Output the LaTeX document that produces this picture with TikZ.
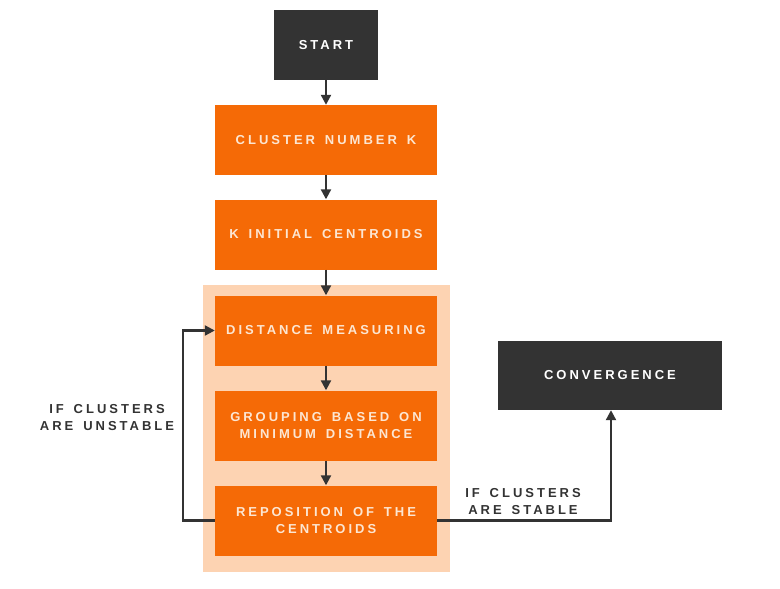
\documentclass[tikz,border=0pt]{standalone}
\usepackage{fontspec}
\setmainfont{Liberation Sans}
\usetikzlibrary{arrows.meta}
\definecolor{dark}{HTML}{333333}
\definecolor{orng}{HTML}{F56A06}
\definecolor{peach}{HTML}{FDD3B2}
\definecolor{cream}{HTML}{FCE6D2}
\newfontfamily\spaced[LetterSpace=23,WordSpace=1.5]{Liberation Sans}
\tikzset{
  base/.style={minimum width=222pt, minimum height=70pt, inner sep=0pt, align=center,
    font=\spaced\bfseries\fontsize{13}{17}\selectfont},
  orbox/.style={base, fill=orng, text=cream},
  dkbox/.style={base, fill=dark, text=white},
  lbl/.style={align=center, text=dark, font=\spaced\bfseries\fontsize{13}{17}\selectfont},
  conn/.style={draw=dark, line width=2.2pt, -{Triangle[length=10pt,width=10pt]}},
}
\begin{document}
\begin{tikzpicture}[x=1pt,y=-1pt]
\useasboundingbox (0,0) rectangle (780,589);
\fill[peach] (203,285) rectangle (450,572);
\node[dkbox, minimum width=104pt] (start) at (326,45) {START};
\node[orbox] (k) at (326,140) {CLUSTER NUMBER K};
\node[orbox] (init) at (326,234.5) {K INITIAL CENTROIDS};
\node[orbox] (dist) at (326,330.5) {DISTANCE MEASURING};
\node[orbox] (group) at (326,425.5) {GROUPING BASED ON\\MINIMUM DISTANCE};
\node[orbox] (repo) at (326,520.5) {REPOSITION OF THE\\CENTROIDS};
\node[dkbox, minimum width=224pt, minimum height=69pt] (conv) at (610,375.5) {CONVERGENCE};
\coordinate (lc) at (183,520.5);
\coordinate (rc) at (611,520.5);
\draw[conn] (start) -- (k);
\draw[conn] (k) -- (init);
\draw[conn] (init) -- (dist);
\draw[conn] (dist) -- (group);
\draw[conn] (group) -- (repo);
\draw[conn] (repo.west) -- (lc) |- (dist.west);
\draw[conn] (repo.east) -- (rc) -- (rc |- conv.south);
\node[lbl] (unst) at (107,418) {IF CLUSTERS\\ARE UNSTABLE};
\node[lbl] (stab) at (523,502) {IF CLUSTERS\\ARE STABLE};
\end{tikzpicture}
\end{document}
